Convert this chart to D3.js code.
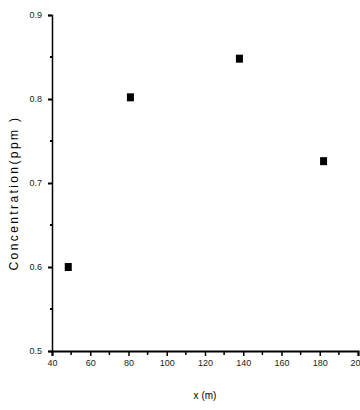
<!DOCTYPE html>
<html>
<head>
<meta charset="utf-8">
<script src="https://cdn.jsdelivr.net/npm/d3@7"></script>
<style>
body { margin:0; background:#fff; }
svg { display:block; }
.axis text { font-family: Arial, "Liberation Sans", sans-serif; font-size:9px; fill:#222; }
</style>
</head>
<body>
<div id="vis"></div>
<script>
var distance = [48.5, 81, 138, 182];
var concentration = [0.600, 0.802, 0.848, 0.726];
var xTicks = [40, 60, 80, 100, 120, 140, 160, 180, 200];
var yTicks = [0.5, 0.6, 0.7, 0.8, 0.9];

var W = 360, H = 410;
var svg = d3.select("#vis").append("svg")
    .attr("width", W).attr("height", H);

var x = d3.scaleLinear().domain([40, 200]).range([52, 358]);
var y = d3.scaleLinear().domain([0.5, 0.9]).range([351, 15]);

// minor ticks
var xMinor = d3.range(50, 200, 20);
var yMinor = d3.range(0.55, 0.9, 0.1);

svg.append("g").attr("class", "axis")
    .attr("transform", "translate(0," + y(0.5) + ")")
    .call(d3.axisBottom(x).tickValues(xTicks).tickSize(5).tickPadding(4)
        .tickFormat(function(d){ return d == 200 ? "20" : d; }))
    .call(function(g){
        g.select(".domain").attr("stroke", "#000").attr("stroke-width", 2);
        g.selectAll(".tick line").attr("stroke-width", 1.5);
        // last label sits flush with the right edge
        g.selectAll(".tick text").filter(function(d){ return d == 200; })
            .attr("text-anchor", "end").attr("dx", 2);
    });

svg.append("g")
    .selectAll("line").data(xMinor).enter()
    .append("line")
    .attr("x1", function(d){ return x(d); }).attr("x2", function(d){ return x(d); })
    .attr("y1", y(0.5)).attr("y2", y(0.5) + 4)
    .attr("stroke", "#000").attr("stroke-width", 1.5);

svg.append("g").attr("class", "axis")
    .attr("transform", "translate(" + x(40) + ",0)")
    .call(d3.axisLeft(y).tickValues(yTicks).tickSize(4).tickPadding(6)
        .tickFormat(d3.format(".1f")))
    .call(function(g){
        g.select(".domain").attr("stroke", "#000").attr("stroke-width", 1.5);
        g.selectAll(".tick line").attr("stroke-width", 2);
    });

svg.append("g")
    .selectAll("line").data(yMinor).enter()
    .append("line")
    .attr("x1", x(40) - 2).attr("x2", x(40))
    .attr("y1", function(d){ return y(d); }).attr("y2", function(d){ return y(d); })
    .attr("stroke", "#000").attr("stroke-width", 2);

svg.append("g")
    .selectAll("rect").data(distance).enter()
    .append("rect")
    .attr("x", function(d){ return x(d) - 3.5; })
    .attr("y", function(d, i){ return y(concentration[i]) - 4; })
    .attr("width", 7).attr("height", 8)
    .attr("fill", "#000");

svg.append("text")
    .attr("transform", "translate(18," + 193 + ") rotate(-90)")
    .attr("text-anchor", "middle")
    .style("font-family", "Arial, 'Liberation Sans', sans-serif")
    .style("font-size", "12px")
    .style("letter-spacing", "2.4px")
    .text("Concentration(ppm )");

svg.append("text")
    .attr("x", 205).attr("y", 399)
    .attr("text-anchor", "middle")
    .style("font-family", "Arial, 'Liberation Sans', sans-serif")
    .style("font-size", "10px")
    .text("x (m)");
</script>
</body>
</html>
